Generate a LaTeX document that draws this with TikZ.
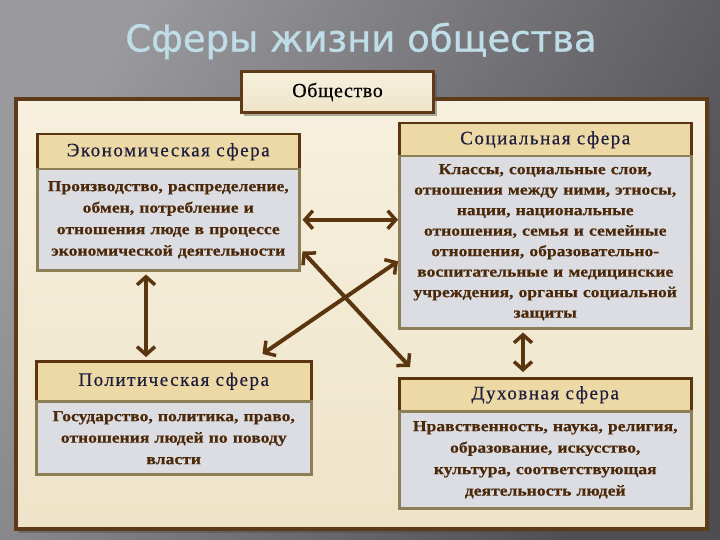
\documentclass[tikz,border=0pt]{standalone}
\usepackage{fontspec}
\setmainfont{Liberation Serif}
\newfontfamily\titlefont[FakeBold=1]{DejaVu Sans}
\newfontfamily\hdrfont[LetterSpace=8, FakeBold=0.5]{Liberation Serif}
\newfontfamily\socfont[LetterSpace=3, FakeBold=0.5]{Liberation Serif}
\newfontfamily\bodyfont[FakeStretch=1.15, BoldFeatures={FakeStretch=1.15, FakeBold=0.5}]{Liberation Serif}
\usetikzlibrary{arrows.meta,calc}
\definecolor{bgA}{HTML}{9A9A9E}
\definecolor{bgB}{HTML}{4E4E52}
\definecolor{titleblue}{HTML}{BFDDE6}
\definecolor{panelfill}{HTML}{F6F0DE}
\definecolor{panelfillB}{HTML}{EEE4C8}
\definecolor{panelborder}{HTML}{5E3A18}
\definecolor{hdrfill}{HTML}{EDD9A6}
\definecolor{hdrborder}{HTML}{5A3510}
\definecolor{bodyfill}{HTML}{DCDDE3}
\definecolor{bodyborder}{HTML}{8C7E55}
\definecolor{bodytext}{HTML}{4A2808}
\definecolor{hdrtext}{HTML}{1C1C3C}
\definecolor{arrowc}{HTML}{5B3510}
\begin{document}
\begin{tikzpicture}[x=1pt,y=-1pt,
  hdr/.style={draw=hdrborder, line width=2.5pt, fill=hdrfill, anchor=north west, inner sep=0pt,
    text=hdrtext, font=\hdrfont\fontsize{19}{21}\selectfont},
  bodybox/.style={draw=bodyborder, line width=2.5pt, fill=bodyfill, anchor=north west, inner sep=0pt,
    text=bodytext, align=center, font=\bodyfont\bfseries\fontsize{15.3}{21.5}\selectfont},
  link/.style={draw=arrowc, line width=4pt,
    {Straight Barb[length=8pt,width=18pt,line width=3.5pt]}-{Straight Barb[length=8pt,width=18pt,line width=3.5pt]}}
]
\useasboundingbox (0,0) rectangle (720,540);
\shade[shading=axis, left color=bgA, right color=bgB, shading angle=60] (0,0) rectangle (720,540);
% title
\node[font=\titlefont\fontsize{37}{40}\selectfont, text=titleblue] (title) at (361,41) {Сферы жизни общества};
% panel
\fill[black!70, opacity=0.45] (19,102) rectangle (711,533);
\node[draw=panelborder, line width=4pt, top color=panelfill, bottom color=panelfillB, anchor=north west,
  minimum width=691pt, minimum height=430pt, inner sep=0pt] (panel) at (14,97) {};
% society
\fill[black!70, opacity=0.45] (244,74) rectangle (437,116);
\node[draw=panelborder, line width=3pt, top color=panelfill, bottom color=panelfillB, anchor=north west,
  minimum width=192pt, minimum height=41pt, inner sep=0pt, font=\socfont\fontsize{20}{21}\selectfont] (soc0) at (240,70) {Общество};
% economic
\node[hdr, minimum width=262pt, minimum height=35pt] (ecoH) at (36,133) {Экономическая сфера};
\node[bodybox, minimum width=262pt, minimum height=101pt, text width=258pt] (ecoB) at (36,168)
  {Производство, распределение,\\обмен, потребление и\\отношения люде в процессе\\экономической деятельности};
% social
\node[hdr, minimum width=292pt, minimum height=33pt] (socH) at (398,122) {Социальная сфера};
\node[bodybox, minimum width=292pt, minimum height=172pt, text width=288pt, font=\bodyfont\bfseries\fontsize{15.3}{20.5}\selectfont] (socB) at (398,155)
  {Классы, социальные слои,\\отношения между ними, этносы,\\нации, национальные\\отношения, семья и семейные\\отношения, образовательно-\\воспитательные и медицинские\\учреждения, органы социальной\\защиты};
% political
\node[hdr, minimum width=275pt, minimum height=40pt] (polH) at (35,360) {Политическая сфера};
\node[bodybox, minimum width=275pt, minimum height=73pt, text width=270pt] (polB) at (35,400)
  {Государство, политика, право,\\отношения людей по поводу\\власти};
% spiritual
\node[hdr, minimum width=292pt, minimum height=33pt] (spiH) at (398,377) {Духовная сфера};
\node[bodybox, minimum width=292pt, minimum height=97pt, text width=288pt] (spiB) at (398,410)
  {Нравственность, наука, религия,\\образование, искусство,\\культура, соответствующая\\деятельность людей};
% connectors
\draw[link, shorten <=2pt] (ecoB.east) -- (ecoB.east -| socB.west);
\draw[link, shorten <=3pt, shorten >=3pt] ([xshift=110pt]ecoB.south west) -- ([xshift=110pt]ecoB.south west |- polH.north);
\draw[link, shorten <=3pt, shorten >=5pt] ([xshift=125pt]socB.south west) -- ([xshift=125pt]socB.south west |- spiH.north);
\draw[link] ([xshift=2pt,yshift=20pt]ecoB.south east) -- ([xshift=12pt,yshift=10pt]spiH.north west);
\draw[link] ([yshift=-19pt]socB.west) -- ([xshift=-50pt,yshift=6pt]polH.north east);
\end{tikzpicture}
\end{document}
